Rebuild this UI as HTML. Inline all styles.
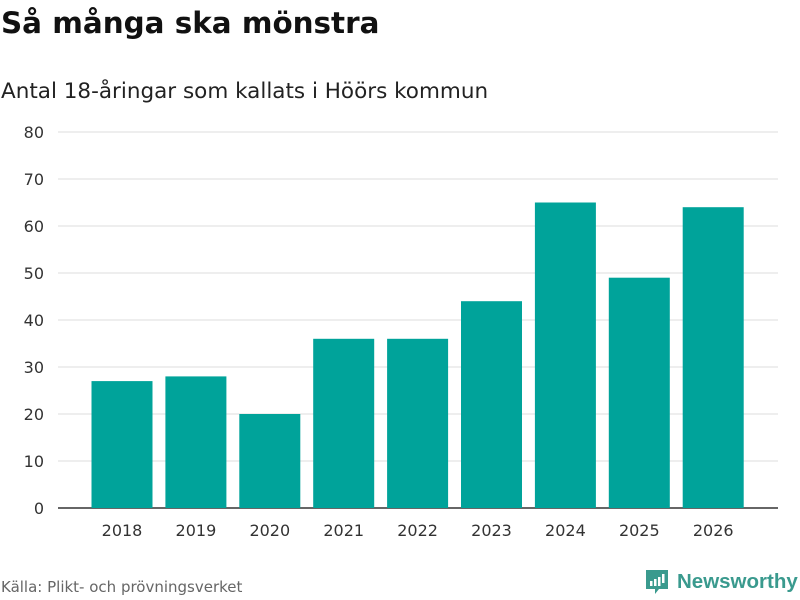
<!DOCTYPE html>
<html><head><meta charset="utf-8"><style>
body{margin:0;width:800px;height:600px;background:#fff;font-family:"DejaVu Sans","Liberation Sans",sans-serif;overflow:hidden;position:relative}
h1{position:absolute;left:1px;top:6px;margin:0;font-size:29.4px;font-weight:bold;color:#111}
.sub{position:absolute;left:1px;top:79px;font-size:21.5px;color:#222}
.src{position:absolute;left:1px;top:578px;font-size:15px;color:#666}
.logo{position:absolute;left:645px;top:569px;display:flex;align-items:center;color:#3a9a8e;font-family:"Liberation Sans",sans-serif;font-size:20.5px;font-weight:bold}
</style></head><body>
<h1>Så många ska mönstra</h1>
<div class="sub">Antal 18-åringar som kallats i Höörs kommun</div>
<svg id="c" width="800" height="600" style="position:absolute;left:0;top:0"></svg>
<div class="src">Källa: Plikt- och prövningsverket</div>
<div class="logo">
<svg width="24" height="26" viewBox="0 0 24 26"><path d="M1 1h22v19H14l-4 5v-5H1z" fill="#3a9a8e"/><rect x="5" y="12" width="2.5" height="5" fill="#fff"/><rect x="9" y="10" width="2.5" height="7" fill="#fff"/><rect x="13" y="8" width="2.5" height="9" fill="#fff"/><rect x="17" y="5" width="2.5" height="9" fill="#fff"/></svg>
<span style="margin-left:8px">Newsworthy</span></div>
<script>
const categories=["2018","2019","2020","2021","2022","2023","2024","2025","2026"];
const values=[27,28,20,36,36,44,65,49,64];
const yTicks=[0,10,20,30,40,50,60,70,80];
const svg=document.getElementById('c');const NS='http://www.w3.org/2000/svg';
const x0=58,x1=778,yB=508,yT=132,yMax=80;
const y=v=>yB-(yB-yT)*v/yMax;
const step=73.9;
const xc=i=>122+step*i;
const bw=61;
function mk(t,a){const e=document.createElementNS(NS,t);for(const k in a)e.setAttribute(k,a[k]);svg.appendChild(e);return e;}
yTicks.forEach(v=>{
 const l=mk('line',{x1:x0,x2:x1,y1:y(v),y2:y(v),stroke:v===0?'#333':'#ddd','stroke-width':v===0?1.5:1});
 
 
 const t=mk('text',{x:44,y:y(v)+6,'text-anchor':'end','font-size':16,fill:'#333'});t.textContent=v;
 
 
});
values.forEach((v,i)=>{
 const r=mk('rect',{x:xc(i)-bw/2,y:y(v),width:bw,height:yB-y(v),fill:'#00a39a'});
 
 
 const t=mk('text',{x:xc(i),y:536,'text-anchor':'middle','font-size':16,fill:'#333'});t.textContent=categories[i];
 
 
});
</script>
</body></html>
